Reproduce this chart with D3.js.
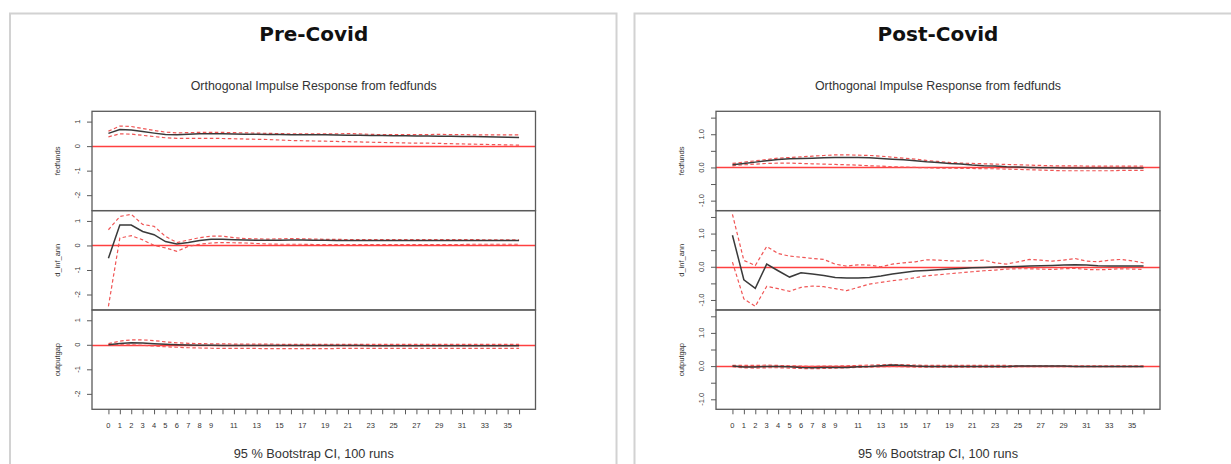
<!DOCTYPE html>
<html>
<head>
<meta charset="utf-8">
<script src="https://cdn.jsdelivr.net/npm/d3@7"></script>
<style>
  html, body { margin: 0; padding: 0; background: #ffffff; }
  svg { display: block; }
</style>
</head>
<body>
<svg id="chart" width="1231" height="464"></svg>
<script>
// ---------------- DATA ----------------
const horizons = [0,1,2,3,4,5,6,7,8,9,10,11,12,13,14,15,16,17,18,19,20,21,22,23,24,25,26,27,28,29,30,31,32,33,34,35,36];
const xTickLabels = ["0","1","2","3","4","5","6","7","8","9","","11","","13","","15","","17","","19","","21","","23","","25","","27","","29","","31","","33","","35",""];
const variables = ["fedfunds", "d_inf_ann", "outputgap"];
const panelTitles = ["Pre-Covid", "Post-Covid"];
const subtitle = "Orthogonal Impulse Response from fedfunds";
const footer = "95 % Bootstrap CI,  100 runs";

const preYTicks = [-2, -1, 0, 1];
const preYTickLabels = ["-2", "-1", "0", "1"];
const postYTicks = [-1, -0.5, 0, 0.5, 1, 1.5];
const postYTickLabels = ["-1.0", "", "0.0", "", "1.0", ""];

// Pre-Covid
const preFedfundsIrf   = [0.52,0.68,0.66,0.60,0.53,0.47,0.46,0.48,0.50,0.50,0.50,0.49,0.48,0.48,0.47,0.47,0.46,0.46,0.46,0.46,0.45,0.44,0.44,0.43,0.43,0.42,0.42,0.41,0.41,0.40,0.40,0.39,0.39,0.38,0.37,0.36,0.35];
const preFedfundsUpper = [0.61,0.82,0.80,0.72,0.64,0.57,0.54,0.55,0.56,0.56,0.56,0.55,0.54,0.53,0.52,0.51,0.50,0.50,0.50,0.50,0.50,0.51,0.50,0.48,0.47,0.47,0.47,0.47,0.47,0.48,0.47,0.47,0.46,0.46,0.46,0.46,0.46];
const preFedfundsLower = [0.38,0.50,0.49,0.44,0.39,0.34,0.32,0.32,0.32,0.32,0.31,0.30,0.29,0.28,0.27,0.25,0.23,0.22,0.21,0.20,0.19,0.18,0.17,0.16,0.15,0.14,0.13,0.12,0.12,0.11,0.10,0.09,0.08,0.07,0.06,0.05,0.04];

const preInfIrf   = [-0.52,0.83,0.83,0.57,0.44,0.16,0.06,0.12,0.20,0.25,0.25,0.23,0.22,0.21,0.21,0.21,0.22,0.22,0.21,0.21,0.20,0.20,0.20,0.20,0.20,0.20,0.20,0.20,0.20,0.20,0.20,0.20,0.20,0.20,0.20,0.20,0.20];
const preInfUpper = [0.64,1.18,1.27,0.86,0.78,0.37,0.12,0.22,0.32,0.38,0.38,0.32,0.28,0.27,0.26,0.27,0.28,0.27,0.26,0.25,0.25,0.24,0.24,0.24,0.24,0.24,0.24,0.24,0.24,0.24,0.24,0.24,0.24,0.23,0.23,0.23,0.23];
const preInfLower = [-2.48,0.30,0.40,0.23,0.00,-0.10,-0.24,-0.04,0.05,0.10,0.12,0.11,0.10,0.08,0.06,0.05,0.05,0.05,0.04,0.04,0.04,0.04,0.04,0.04,0.04,0.04,0.04,0.04,0.04,0.04,0.04,0.04,0.05,0.05,0.05,0.05,0.05];

const preGapIrf   = [0.00,0.05,0.08,0.07,0.04,0.02,0.00,-0.01,-0.02,-0.02,-0.03,-0.03,-0.03,-0.03,-0.03,-0.03,-0.03,-0.03,-0.03,-0.03,-0.03,-0.03,-0.03,-0.04,-0.04,-0.04,-0.04,-0.04,-0.04,-0.04,-0.04,-0.04,-0.04,-0.04,-0.04,-0.04,-0.04];
const preGapUpper = [0.05,0.15,0.20,0.20,0.17,0.12,0.08,0.06,0.05,0.04,0.04,0.03,0.03,0.03,0.03,0.02,0.02,0.02,0.02,0.02,0.02,0.02,0.02,0.02,0.02,0.02,0.02,0.02,0.02,0.02,0.02,0.02,0.02,0.02,0.02,0.02,0.02];
const preGapLower = [-0.02,0.00,0.00,-0.02,-0.05,-0.08,-0.10,-0.12,-0.13,-0.14,-0.15,-0.15,-0.15,-0.15,-0.16,-0.16,-0.16,-0.16,-0.16,-0.16,-0.15,-0.15,-0.15,-0.15,-0.15,-0.15,-0.15,-0.15,-0.15,-0.15,-0.15,-0.15,-0.15,-0.15,-0.15,-0.15,-0.15];

// Post-Covid
const postFedfundsIrf   = [0.08,0.12,0.16,0.20,0.24,0.26,0.27,0.28,0.29,0.30,0.30,0.30,0.29,0.27,0.25,0.23,0.20,0.17,0.15,0.12,0.10,0.07,0.05,0.04,0.02,0.01,0.00,-0.01,-0.01,-0.02,-0.02,-0.02,-0.02,-0.02,-0.02,-0.02,-0.02];
const postFedfundsUpper = [0.12,0.16,0.20,0.24,0.28,0.30,0.32,0.34,0.36,0.38,0.38,0.37,0.36,0.34,0.31,0.28,0.25,0.21,0.18,0.15,0.13,0.12,0.11,0.10,0.09,0.08,0.07,0.06,0.05,0.05,0.05,0.04,0.04,0.04,0.04,0.04,0.04];
const postFedfundsLower = [0.05,0.08,0.10,0.12,0.13,0.13,0.12,0.11,0.10,0.09,0.08,0.07,0.05,0.04,0.02,0.01,0.00,-0.01,-0.02,-0.02,-0.03,-0.03,-0.04,-0.04,-0.05,-0.06,-0.07,-0.08,-0.09,-0.10,-0.10,-0.10,-0.10,-0.10,-0.09,-0.09,-0.09];

const postInfIrf   = [0.95,-0.39,-0.65,0.08,-0.12,-0.31,-0.18,-0.22,-0.26,-0.32,-0.34,-0.34,-0.32,-0.28,-0.22,-0.17,-0.13,-0.11,-0.09,-0.07,-0.05,-0.03,-0.02,-0.01,0.00,0.01,0.02,0.03,0.04,0.05,0.06,0.05,0.03,0.02,0.02,0.02,0.02];
const postInfUpper = [1.58,0.19,0.04,0.61,0.40,0.32,0.29,0.25,0.22,0.08,0.02,0.06,0.05,0.00,0.08,0.12,0.15,0.21,0.20,0.18,0.17,0.18,0.20,0.12,0.08,0.15,0.22,0.20,0.17,0.20,0.25,0.17,0.15,0.20,0.22,0.18,0.12];
const postInfLower = [0.14,-0.97,-1.19,-0.59,-0.66,-0.74,-0.62,-0.58,-0.60,-0.66,-0.72,-0.62,-0.52,-0.47,-0.42,-0.38,-0.33,-0.27,-0.24,-0.21,-0.18,-0.15,-0.12,-0.10,-0.07,-0.06,-0.06,-0.07,-0.08,-0.06,-0.05,-0.08,-0.09,-0.08,-0.06,-0.07,-0.08];

const postGapIrf   = [0.00,-0.03,-0.03,-0.01,-0.01,-0.02,-0.04,-0.05,-0.04,-0.04,-0.04,-0.02,-0.01,0.01,0.03,0.02,0.00,-0.01,-0.01,-0.01,-0.01,-0.01,-0.01,-0.01,-0.01,0.00,0.00,0.00,0.00,0.00,-0.01,-0.01,-0.01,-0.01,-0.01,-0.01,-0.01];
const postGapUpper = [0.02,0.02,0.02,0.03,0.02,0.01,0.00,-0.01,0.00,0.00,0.01,0.02,0.03,0.04,0.05,0.04,0.03,0.02,0.02,0.02,0.02,0.02,0.02,0.02,0.02,0.01,0.01,0.01,0.01,0.01,0.01,0.01,0.01,0.01,0.01,0.01,0.01];
const postGapLower = [-0.02,-0.05,-0.06,-0.05,-0.05,-0.06,-0.07,-0.08,-0.07,-0.06,-0.05,-0.04,-0.03,-0.02,-0.01,-0.02,-0.03,-0.03,-0.03,-0.03,-0.03,-0.03,-0.03,-0.03,-0.03,-0.02,-0.02,-0.02,-0.02,-0.02,-0.02,-0.02,-0.02,-0.02,-0.02,-0.02,-0.02];

// ---------------- DRAWING ----------------
const svg = d3.select("#chart");

const panels = [
  {
    title: panelTitles[0],
    frame: {x: 10, y: 13.5, w: 606.5, h: 470},
    plot: {x0: 92, x1: 535.5, y0: 111.3, y1: 409.3},
    varLabelX: 57, tickLabelX: 77.5,
    yTicks: preYTicks, yTickLabels: preYTickLabels,
    series: [
      {irf: preFedfundsIrf, upper: preFedfundsUpper, lower: preFedfundsLower},
      {irf: preInfIrf, upper: preInfUpper, lower: preInfLower},
      {irf: preGapIrf, upper: preGapUpper, lower: preGapLower}
    ]
  },
  {
    title: panelTitles[1],
    frame: {x: 634.5, y: 13.5, w: 620, h: 470},
    plot: {x0: 716, x1: 1160, y0: 111.3, y1: 409.3},
    varLabelX: 681, tickLabelX: 701.5,
    yTicks: postYTicks, yTickLabels: postYTickLabels,
    series: [
      {irf: postFedfundsIrf, upper: postFedfundsUpper, lower: postFedfundsLower},
      {irf: postInfIrf, upper: postInfUpper, lower: postInfLower},
      {irf: postGapIrf, upper: postGapUpper, lower: postGapLower}
    ]
  }
];

const frameColor = "#d2d2d2";
const boxColor = "#5a5a5a";
const lineColor = "#3a3a3a";
const ciColor = "#f05555";
const zeroColor = "#ff4040";
const textColor = "#333333";
const snap = v => Math.round(v) + 0.5;

panels.forEach(p => {
  const g = svg.append("g");

  // outer document frame
  g.append("rect")
    .attr("x", p.frame.x).attr("y", p.frame.y)
    .attr("width", p.frame.w).attr("height", p.frame.h)
    .attr("fill", "none").attr("stroke", frameColor).attr("stroke-width", 2);

  const cx = (p.plot.x0 + p.plot.x1) / 2;

  g.append("text")
    .attr("x", cx).attr("y", 41)
    .attr("text-anchor", "middle")
    .attr("font-family", "DejaVu Sans, sans-serif")
    .attr("font-weight", "bold")
    .attr("font-size", 20)
    .attr("fill", "#111")
    .text(p.title);

  g.append("text")
    .attr("x", cx).attr("y", 89.5)
    .attr("text-anchor", "middle")
    .attr("font-family", "Liberation Sans, Arial, sans-serif")
    .attr("font-size", 12.5)
    .attr("textLength", 246).attr("lengthAdjust", "spacingAndGlyphs")
    .attr("fill", textColor)
    .text(subtitle);

  g.append("text")
    .attr("x", cx).attr("y", 457.5)
    .attr("text-anchor", "middle")
    .attr("font-family", "Liberation Sans, Arial, sans-serif")
    .attr("font-size", 12)
    .attr("textLength", 160).attr("lengthAdjust", "spacingAndGlyphs")
    .attr("fill", textColor)
    .text(footer);

  // shared x scale (R-style 4% padding)
  const xExt = d3.extent(horizons);
  const xPad = (xExt[1] - xExt[0]) * 0.04;
  const x = d3.scaleLinear()
    .domain([xExt[0] - xPad, xExt[1] + xPad])
    .range([p.plot.x0, p.plot.x1]);

  // shared y domain (R-style 4% padding over all series)
  const allVals = p.series.flatMap(s => s.irf.concat(s.upper, s.lower));
  const yExt = d3.extent(allVals);
  const yPad = (yExt[1] - yExt[0]) * 0.04;
  const yDomain = [yExt[0] - yPad, yExt[1] + yPad];

  const subH = (p.plot.y1 - p.plot.y0) / variables.length;

  p.series.forEach((s, i) => {
    const top = p.plot.y0 + i * subH;
    const y = d3.scaleLinear().domain(yDomain).range([top + subH, top]);
    const sg = g.append("g");

    // zero line
    sg.append("line")
      .attr("x1", p.plot.x0).attr("x2", p.plot.x1)
      .attr("y1", snap(y(0))).attr("y2", snap(y(0)))
      .attr("stroke", zeroColor).attr("stroke-width", 1.3);

    const line = d3.line().x((d, k) => x(horizons[k])).y(d => y(d));

    [s.upper, s.lower].forEach(arr => {
      sg.append("path")
        .attr("d", line(arr))
        .attr("fill", "none")
        .attr("stroke", ciColor)
        .attr("stroke-width", 1.2)
        .attr("stroke-dasharray", "3.5,2.5");
    });

    sg.append("path")
      .attr("d", line(s.irf))
      .attr("fill", "none")
      .attr("stroke", lineColor)
      .attr("stroke-width", 1.5);

    // box
    sg.append("rect")
      .attr("x", p.plot.x0).attr("y", top)
      .attr("width", p.plot.x1 - p.plot.x0).attr("height", subH)
      .attr("fill", "none").attr("stroke", boxColor).attr("stroke-width", 1.3);

    // y axis ticks
    const yAxis = d3.axisLeft(y).tickValues(p.yTicks).tickSize(5).tickFormat("");
    const ag = sg.append("g").attr("transform", `translate(${p.plot.x0},0)`).call(yAxis);
    ag.select(".domain").remove();
    ag.selectAll(".tick line").attr("stroke", boxColor).attr("stroke-width", 1);

    p.yTicks.forEach((t, k) => {
      const lab = p.yTickLabels[k];
      if (!lab) return;
      sg.append("text")
        .attr("transform", `translate(${p.tickLabelX},${y(t)}) rotate(-90)`)
        .attr("text-anchor", "middle")
        .attr("dy", "0.35em")
        .attr("font-family", "Liberation Sans, Arial, sans-serif")
        .attr("font-size", 7.5)
        .attr("fill", textColor)
        .text(lab);
    });

    // variable label
    sg.append("text")
      .attr("transform", `translate(${p.varLabelX},${top + subH / 2}) rotate(-90)`)
      .attr("text-anchor", "middle")
      .attr("dy", "0.35em")
      .attr("font-family", "Liberation Sans, Arial, sans-serif")
      .attr("font-size", 7.5)
      .attr("fill", textColor)
      .text(variables[i]);
  });

  // x axis
  const xAxis = d3.axisBottom(x).tickValues(horizons).tickSize(5).tickFormat("");
  const xg = g.append("g").attr("transform", `translate(0,${p.plot.y1})`).call(xAxis);
  xg.select(".domain").remove();
  xg.selectAll(".tick line").attr("stroke", boxColor).attr("stroke-width", 1);

  horizons.forEach((h, k) => {
    const lab = xTickLabels[k];
    if (!lab) return;
    g.append("text")
      .attr("x", x(h)).attr("y", p.plot.y1 + 18.5)
      .attr("text-anchor", "middle")
      .attr("font-family", "Liberation Sans, Arial, sans-serif")
      .attr("font-size", 7.5)
      .attr("fill", textColor)
      .text(lab);
  });
});
</script>
</body>
</html>
